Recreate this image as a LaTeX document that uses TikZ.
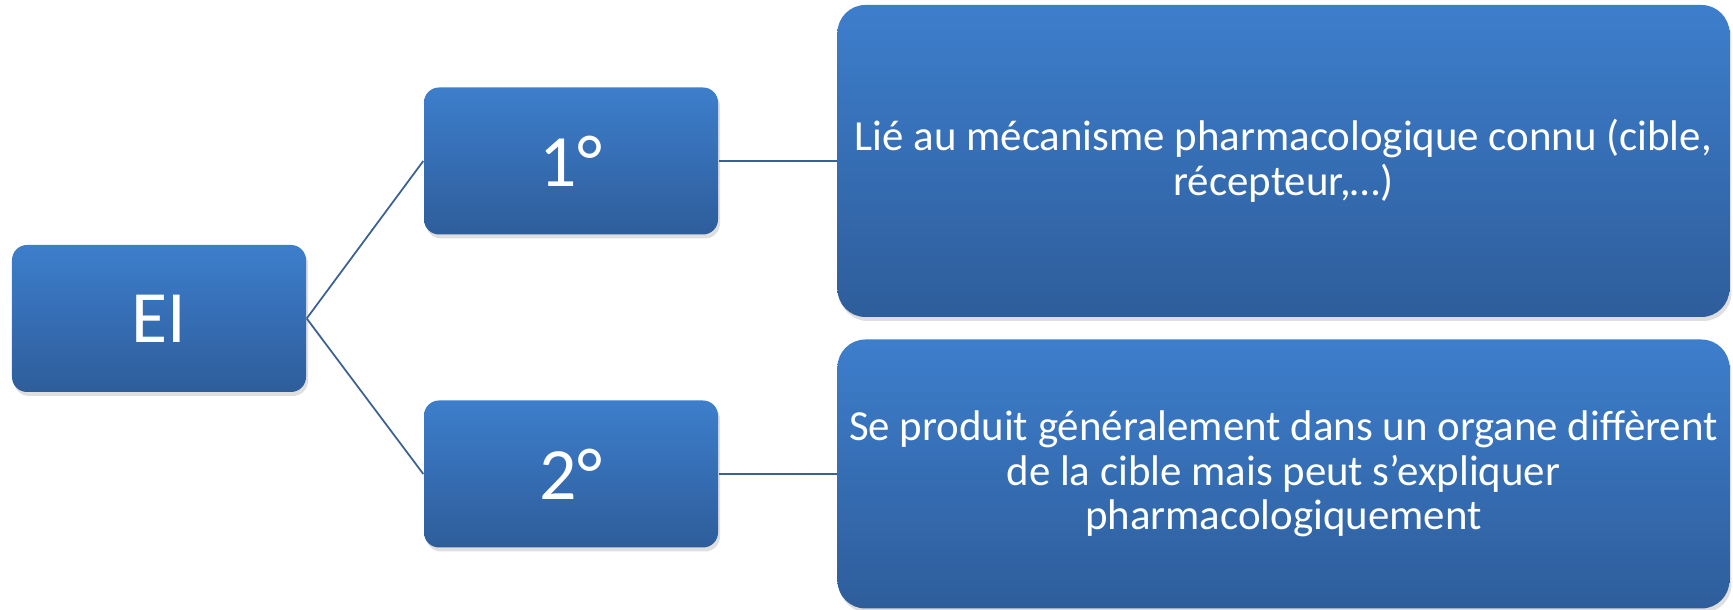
\documentclass[tikz,border=0pt]{standalone}
\usepackage{fontspec}
\setmainfont{Carlito}
\usetikzlibrary{positioning, shadows}
\definecolor{boxtop}{RGB}{61,126,204}
\definecolor{boxbottom}{RGB}{46,93,155}
\definecolor{linkblue}{RGB}{58,97,146}

\begin{document}
\begin{tikzpicture}[
    node distance=1.18cm,
    every edge/.style={draw=linkblue, line width=0.5pt},
    box/.style={draw=none, align=center, rounded corners=0.15cm, inner sep=0pt, text=white, top color=boxtop, bottom color=boxbottom, drop shadow={shadow xshift=0.02cm, shadow yshift=-0.04cm, opacity=0.25}},
    small/.style={box, minimum width=2.94cm, minimum height=1.47cm, font=\fontsize{21}{25}\selectfont},
    big/.style={box, rounded corners=0.28cm, minimum width=8.92cm, font=\fontsize{12.2}{12.7}\selectfont}]

    \useasboundingbox (0,0) rectangle (17.33,6.10);

    \node at (1.59,2.915)[small] (ei) {EI};
    \node at (5.71,4.49)[small] (one) {1°};
    \node at (5.71,1.36)[small] (two) {2°};

    \node [big, minimum height=3.12cm, right=of one] (mech) {Lié au mécanisme pharmacologique connu (cible, \\ récepteur,…)};
    \node [big, minimum height=2.69cm, right=of two] (organ) {Se produit généralement dans un organe diffèrent \\ de la cible mais peut s’expliquer \\ pharmacologiquement};

    %%% links
    \path (ei.east) edge (one.west);
    \path (ei.east) edge (two.west);
    \path (one) edge (mech);
    \path (two) edge (organ);

\end{tikzpicture}
\end{document}
